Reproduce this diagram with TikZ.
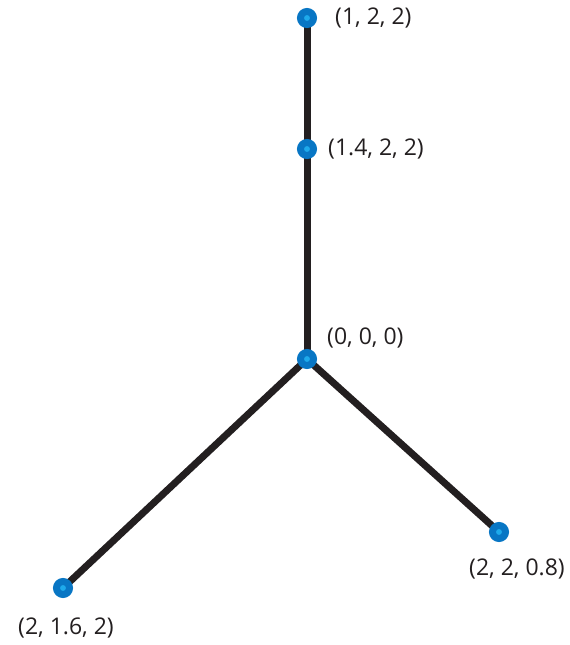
\documentclass[tikz,border=0pt]{standalone}
\usepackage{fontspec}
\setmainfont{Open Sans}
\usepackage{tikz}
\usetikzlibrary{backgrounds,positioning}
\definecolor{dotblue}{RGB}{8,118,196}
\definecolor{dotlight}{RGB}{30,170,235}
\definecolor{inkgray}{RGB}{35,31,32}
\tikzset{
  dot/.style={circle, draw=dotblue, fill=dotlight, line width=7pt, minimum size=13pt, inner sep=0pt},
  edge/.style={draw=inkgray, line width=7pt},
  lbl/.style={inner sep=0pt, text=inkgray, font=\fontsize{23}{26}\selectfont}
}
\begin{document}
\begin{tikzpicture}[x=1pt,y=-1pt]
        \useasboundingbox (0,0) rectangle (570,645);
        % Draw the points of the tree
        \foreach \name/\x/\y in {top/307/18, upper/307/149, origin/307/359, right/499/532, left/63/588} {
            \node[dot] (\name) at (\x,\y) {};
          }
        % Draw the labels next to the points
        \node[lbl, anchor=west] (topLabel) at (335,18) {(1, 2, 2)};
        \node[lbl, anchor=west] (upperLabel) at (328,149) {(1.4, 2, 2)};
        \node[lbl, anchor=west] (originLabel) at (327,338) {(0, 0, 0)};
        \node[lbl] (rightLabel) at (517,569) {(2, 2, 0.8)};
        \node[lbl] (leftLabel) at (66,628) {(2, 1.6, 2)};
        % Draw connecting lines behind the points
        \begin{scope}[on background layer]
            \draw[edge] (top.center) -- (origin.center);
            \foreach \target in {right, left} {
                \draw[edge] (origin.center) -- (\target.center);
              }
          \end{scope}
      \end{tikzpicture}
\end{document}
